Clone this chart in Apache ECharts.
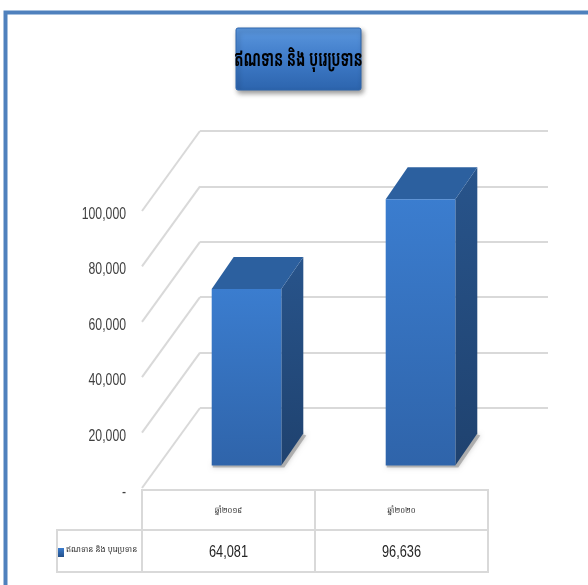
<!DOCTYPE html>
<html><head><meta charset="utf-8">
<script src="https://cdn.jsdelivr.net/npm/echarts@6/dist/echarts.min.js"></script>
<style>html,body{margin:0;padding:0;background:#fff}#c{width:588px;height:585px}</style>
</head><body><div id="c"></div>
<script>
const titleText = 'ឥណទាន និង បុរេប្រទាន';
const seriesName = 'ឥណទាន និង បុរេប្រទាន';
const categories = ['ឆ្នាំ២០១៩', 'ឆ្នាំ២០២០'];
const values = [64081, 96636];
const yTicks = [0, 20000, 40000, 60000, 80000, 100000];

const KH = "'Noto Sans Khmer','Khmer OS','Noto Sans','DejaVu Sans',sans-serif";
const NUM = "'Liberation Sans','Arial',sans-serif";

function fmt(v){ return v === 0 ? '-' : Number(v).toLocaleString('en-US'); }

const chart = echarts.init(document.getElementById('c'), null, {renderer:'canvas'});

const option = {
  animation:false,
  backgroundColor:'#fff',
  grid:[
    {left:200, right:40, top:131, bottom:177},
    {left:159.5, right:80.5, top:190, bottom:119.5},
    {left:142, right:100, top:212, bottom:95}
  ],
  xAxis:[
    {gridIndex:0, type:'category', data:categories, show:false},
    {gridIndex:1, type:'category', data:categories, show:false},
    {gridIndex:2, type:'category', data:categories, show:false}
  ],
  yAxis:[
    {gridIndex:0, type:'value', min:0, max:100000, interval:20000,
     axisLabel:{show:false}, axisLine:{show:false}, axisTick:{show:false},
     splitLine:{show:true, lineStyle:{color:'#d9d9d9', width:2}}},
    {gridIndex:1, type:'value', min:0, max:100000, interval:20000, show:false},
    {gridIndex:2, type:'value', min:0, max:100000, interval:20000,
     axisLine:{show:false}, axisTick:{show:false}, splitLine:{show:false}, axisLabel:{show:false}}
  ],
  series:[
    {
      type:'custom', name:'walls', xAxisIndex:0, yAxisIndex:0, silent:true, z:1,
      data: yTicks.map(v => [0, v]),
      renderItem(params, api){
        const y = api.coord([0, api.value(1)])[1];
        const x0 = params.coordSys.x;
        return {type:'line', shape:{x1:x0, y1:y, x2:x0-58, y2:y+80},
                style:{stroke:'#d9d9d9', lineWidth:2}};
      }
    },
    {
      type:'custom', name:'ticks', xAxisIndex:2, yAxisIndex:2, silent:true, z:2,
      data: yTicks.map(v => [0, v]),
      renderItem(params, api){
        const v = api.value(1);
        const y = api.coord([0, v])[1];
        const x0 = params.coordSys.x;
        return {type:'text', x:x0-16, y:y+2, scaleX:0.72,
                style:{x:0, y:0, text:fmt(v), align:'right', verticalAlign:'middle',
                       fontFamily:NUM, fontSize:17, fill:'#404040'}};
      }
    },
    {
      type:'custom', name:seriesName, xAxisIndex:1, yAxisIndex:1, z:5,
      data: values.map((v,i) => [i, v]),
      renderItem(params, api){
        const i = api.value(0), v = api.value(1);
        const top = api.coord([i, v]), bot = api.coord([i, 0]);
        const w = api.size([1,0])[0]*0.40;
        const xl = top[0]-w/2, xr = top[0]+w/2, yt = top[1], yb = bot[1];
        const dx = 22, dy = -32;
        return {type:'group', children:[
          {type:'polygon', shape:{points:[[xl+1,yb-2],[xr,yb-2],[xr+dx-2,yb+dy],[xr+dx+3,yb+dy+2],[xr+3,yb+2],[xl+1,yb+2]]},
           style:{fill:'rgba(80,80,80,0.35)', shadowBlur:5, shadowColor:'rgba(0,0,0,0.55)'}},
          {type:'polygon', shape:{points:[[xr,yt],[xr+dx,yt+dy],[xr+dx,yb+dy],[xr,yb]]},
           style:{fill:new echarts.graphic.LinearGradient(0,0,0,1,[{offset:0,color:'#28548b'},{offset:1,color:'#1f426f'}])}},
          {type:'polygon', shape:{points:[[xl,yt],[xl+dx,yt+dy],[xr+dx,yt+dy],[xr,yt]]},
           style:{fill:'#2c609f'}},
          {type:'rect', shape:{x:xl, y:yt, width:w, height:yb-yt},
           style:{fill:new echarts.graphic.LinearGradient(0,0,0,1,[{offset:0,color:'#3b7dcf'},{offset:1,color:'#2f64aa'}])}}
        ]};
      }
    },
    {
      type:'custom', name:'table', xAxisIndex:2, yAxisIndex:2, silent:true, z:3,
      data: values.map((v,i) => [i, v]),
      renderItem(params, api){
        const i = api.value(0), v = api.value(1);
        const c = api.coord([i, 0]);
        const w = api.size([1,0])[0];
        const x0 = c[0]-w/2, y0 = c[1];
        const ls = {fill:'none', stroke:'#d9d9d9', lineWidth:2};
        const kids = [
          {type:'rect', shape:{x:x0, y:y0, width:w, height:40}, style:ls},
          {type:'rect', shape:{x:x0, y:y0+40, width:w, height:42}, style:ls},
          {type:'text', x:c[0], y:y0+20, scaleX:0.85,
           style:{x:0, y:0, text:categories[i], align:'center', verticalAlign:'middle',
            fontFamily:KH, fontSize:9, fill:'#333'}},
          {type:'text', x:c[0], y:y0+62, scaleX:0.75,
           style:{x:0, y:0, text:fmt(v), align:'center', verticalAlign:'middle',
            fontFamily:NUM, fontSize:17, fill:'#262626'}}
        ];
        if (i === 0) {
          kids.push({type:'rect', shape:{x:x0-85, y:y0+40, width:85, height:42}, style:ls});
          kids.push({type:'rect', shape:{x:x0-84, y:y0+58, width:6, height:9},
            style:{fill:new echarts.graphic.LinearGradient(0,0,0,1,[{offset:0,color:'#3b7dcf'},{offset:1,color:'#23508a'}])}});
          kids.push({type:'text', style:{x:x0-76, y:y0+60, text:seriesName, align:'left', verticalAlign:'middle',
            fontFamily:KH, fontSize:8, fill:'#333'}});
        }
        return {type:'group', children:kids};
      }
    }
  ],
  graphic:[
    {type:'rect', shape:{x:5.5, y:12.5, width:640, height:640},
     style:{fill:'none', stroke:'#4f81bd', lineWidth:4}, z:100},
    {type:'rect', shape:{x:236, y:28, width:125, height:62, r:2},
     style:{fill:new echarts.graphic.LinearGradient(0,0,0,1,[{offset:0,color:'#5b97de'},{offset:0.5,color:'#3f7bc8'},{offset:1,color:'#2c64ad'}]),
            stroke:'#2f66ad', lineWidth:1, shadowBlur:5, shadowOffsetX:2, shadowOffsetY:3, shadowColor:'rgba(0,0,0,0.4)'}, z:100},
    {type:'text', x:298.5, y:60, scaleX:0.62, style:{x:0, y:0, text:titleText, align:'center', verticalAlign:'middle',
      fontFamily:KH, fontSize:22, fontWeight:'bold', fill:'#000'}, z:101}
  ]
};
chart.setOption(option);
</script></body></html>
